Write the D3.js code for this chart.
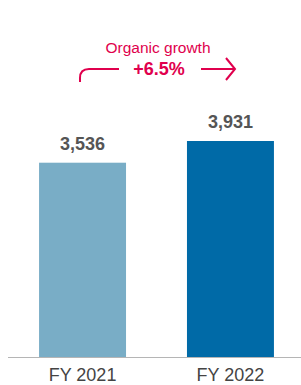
<!DOCTYPE html>
<html>
<head>
<meta charset="utf-8">
<script src="https://cdn.jsdelivr.net/npm/d3@7"></script>
<style>
  body { margin: 0; background: #fff; }
  text { font-family: "Liberation Sans", Arial, sans-serif; }
</style>
</head>
<body>
<div id="chart"></div>
<script>
// data
var categories = ["FY 2021", "FY 2022"];
var values = [3536, 3931];
var valueLabels = ["3,536", "3,931"];
var growthTitle = "Organic growth";
var growthValue = "+6.5%";

var width = 301, height = 385;
var baseY = 357;

var svg = d3.select("#chart").append("svg")
  .attr("width", width)
  .attr("height", height);

var x = d3.scaleBand()
  .domain(categories)
  .range([8, 305])
  .paddingInner(0.412)
  .paddingOuter(0.21);

var y = d3.scaleLinear()
  .domain([0, 3931])
  .range([baseY, 141]);

var colors = ["#79adc6", "#006aa7"];

// Balken
svg.selectAll("rect.bar")
  .data(values)
  .enter().append("rect")
  .attr("class", "bar")
  .attr("x", function(d, i) { return x(categories[i]); })
  .attr("y", function(d) { return y(d); })
  .attr("width", x.bandwidth())
  .attr("height", function(d) { return baseY - y(d); })
  .attr("fill", function(d, i) { return colors[i]; });

// Grundlinie
svg.append("line")
  .attr("x1", 8).attr("x2", 301)
  .attr("y1", baseY + 0.5).attr("y2", baseY + 0.5)
  .attr("stroke", "#b5b5b5")
  .attr("stroke-width", 1);

// Werte
svg.selectAll("text.val")
  .data(values)
  .enter().append("text")
  .attr("class", "val")
  .attr("x", function(d, i) { return x(categories[i]) + x.bandwidth() / 2; })
  .attr("y", function(d) { return y(d) - 13; })
  .attr("text-anchor", "middle")
  .attr("font-size", 18)
  .attr("font-weight", "bold")
  .attr("fill", "#555")
  .text(function(d, i) { return valueLabels[i]; });

// Kategorien
svg.selectAll("text.cat")
  .data(categories)
  .enter().append("text")
  .attr("class", "cat")
  .attr("x", function(d) { return x(d) + x.bandwidth() / 2; })
  .attr("y", 381)
  .attr("text-anchor", "middle")
  .attr("font-size", 18)
  .attr("fill", "#444")
  .text(function(d) { return d; });

// Wachstum
var pink = "#e0004d";
svg.append("text")
  .attr("x", 158).attr("y", 53)
  .attr("text-anchor", "middle")
  .attr("font-size", 15.5)
  .attr("fill", pink)
  .text(growthTitle);
svg.append("text")
  .attr("x", 159).attr("y", 75)
  .attr("text-anchor", "middle")
  .attr("font-size", 18)
  .attr("font-weight", "bold")
  .attr("fill", pink)
  .text(growthValue);

svg.append("path")
  .attr("d", "M80,82 L80,78 Q80,69 89,69 L119,69")
  .attr("fill", "none")
  .attr("stroke", pink)
  .attr("stroke-width", 2);
svg.append("path")
  .attr("d", "M201,69 L235,69 M226,58 L235,69 L226,80")
  .attr("fill", "none")
  .attr("stroke", pink)
  .attr("stroke-width", 2);
</script>
</body>
</html>
